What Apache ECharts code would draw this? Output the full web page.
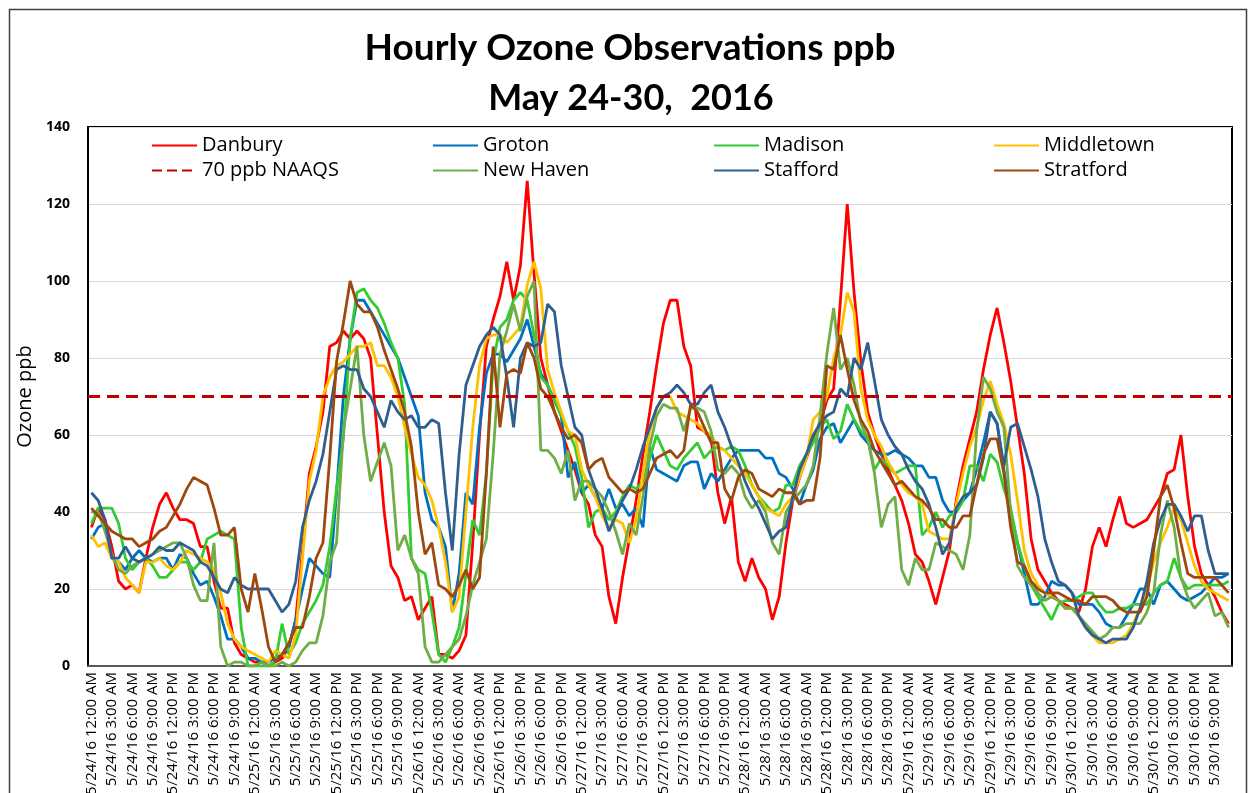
<!DOCTYPE html>
<html>
<head>
<meta charset="utf-8">
<script src="https://cdn.jsdelivr.net/npm/echarts@6/dist/echarts.min.js"></script>
<style>
html,body{margin:0;padding:0;background:#fff;}
#chart{width:1248px;height:793px;}
</style>
</head>
<body>
<div id="chart"></div>
<script>
// ---- tick / category labels ----
const days = ['5/24/16','5/25/16','5/26/16','5/27/16','5/28/16','5/29/16','5/30/16'];
const hourLabels = ['12:00 AM','1:00 AM','2:00 AM','3:00 AM','4:00 AM','5:00 AM','6:00 AM','7:00 AM','8:00 AM','9:00 AM','10:00 AM','11:00 AM',
                    '12:00 PM','1:00 PM','2:00 PM','3:00 PM','4:00 PM','5:00 PM','6:00 PM','7:00 PM','8:00 PM','9:00 PM','10:00 PM','11:00 PM'];
const yTicks = [0,20,40,60,80,100,120,140];
const NAAQS = 70;

// ---- hourly ozone (ppb), one row per day ----
const danbury = [
  36,41,38,31,22,20,21,19,28,36,42,45,41,38,38,37,31,31,22,15,15,6,3,2,
  1,1,0,1,2,5,12,30,50,57,66,83,84,87,85,87,85,80,60,40,26,23,17,18,
  12,15,18,3,3,2,4,8,32,60,83,90,96,105,95,104,126,102,80,73,66,61,56,51,
  45,42,34,31,18,11,23,33,43,55,66,78,89,95,95,83,78,62,61,59,45,37,44,27,
  22,28,23,20,12,18,32,43,49,54,59,63,69,72,95,120,97,79,66,60,55,51,47,43,
  37,29,27,22,16,23,30,43,52,59,66,77,86,93,84,74,62,50,33,25,22,19,17,16,
  15,14,20,31,36,31,38,44,37,36,37,38,41,44,50,51,60,44,31,24,21,18,14,11
];
const groton = [
  33,36,37,28,27,25,28,30,28,27,28,28,25,29,28,24,21,22,18,13,7,7,5,2,
  2,1,1,2,3,5,12,20,28,26,24,23,45,70,85,95,95,92,89,86,83,80,75,70,
  65,45,38,36,31,14,24,45,42,62,76,81,81,79,82,85,90,83,76,73,69,65,49,53,
  45,47,44,41,46,41,42,39,41,36,57,51,50,49,48,52,53,53,46,50,48,51,54,56,
  56,56,56,54,54,50,49,46,42,47,51,59,62,63,58,61,64,60,58,56,55,55,56,55,
  54,52,52,49,49,43,40,40,43,45,51,58,66,63,51,40,32,24,16,16,18,22,21,21,
  19,16,16,16,14,11,10,10,13,16,20,20,16,21,22,20,18,17,18,19,21,23,23,24
];
const madison = [
  37,41,41,41,37,28,25,27,28,26,23,23,25,27,27,25,27,33,34,35,34,33,10,0,
  0,0,0,1,11,3,6,11,14,17,21,31,46,59,85,97,98,95,93,89,84,80,68,28,
  25,24,14,3,1,5,10,24,38,34,50,79,88,90,95,97,95,86,75,73,69,65,61,57,
  49,36,40,41,38,40,44,47,46,48,54,60,56,52,51,54,56,58,54,56,57,56,57,56,
  52,47,44,42,40,41,47,47,52,55,58,62,64,59,61,68,64,61,59,51,54,52,50,51,
  52,52,34,36,40,36,39,40,43,52,52,48,55,53,46,41,32,26,21,18,15,12,16,17,
  17,18,19,19,16,14,14,15,15,16,16,16,19,21,22,28,23,20,21,21,21,21,21,22
];
const middletown = [
  34,31,32,28,27,23,21,19,27,27,28,26,25,27,30,29,28,27,25,19,11,7,5,4,
  3,2,1,4,3,2,8,28,48,56,70,75,78,79,81,83,83,84,78,78,75,70,62,55,
  49,47,43,36,27,14,18,40,62,78,85,86,86,84,86,88,99,105,98,77,71,66,61,60,
  51,47,44,39,36,38,37,32,38,50,61,67,70,70,66,65,64,63,61,60,57,56,54,52,
  50,47,44,41,40,39,42,44,49,54,64,66,70,80,86,97,92,72,64,60,57,53,50,47,
  45,44,42,35,34,33,33,42,50,57,62,69,74,68,63,55,43,30,24,21,19,18,17,15,
  15,13,10,8,6,6,6,7,8,11,15,20,27,32,36,41,38,32,26,22,20,19,18,17
];
const newHaven = [
  40,40,35,29,25,24,26,27,28,29,30,31,32,32,28,21,17,17,32,5,0,1,1,0,
  0,1,0,0,1,0,1,4,6,6,13,27,32,61,72,83,60,48,53,58,52,30,34,28,
  24,5,1,1,3,5,7,13,21,27,33,55,81,87,94,87,96,100,56,56,54,50,56,43,
  48,48,46,44,40,35,29,37,34,44,57,65,68,67,67,61,67,67,66,61,51,50,52,50,
  44,41,43,40,32,29,40,43,45,47,52,65,81,93,77,80,73,63,59,50,36,42,44,25,
  21,28,25,25,32,31,30,29,25,34,61,75,72,66,62,40,26,23,21,19,17,18,17,15,
  15,13,11,9,7,8,10,10,11,11,11,14,19,34,43,36,23,18,15,17,19,13,14,10
];
const stafford = [
  45,43,38,28,28,31,28,27,28,29,31,30,30,32,31,30,27,26,23,20,19,23,21,20,
  20,20,20,17,14,16,22,36,43,48,55,66,77,78,77,77,72,70,66,62,69,66,64,65,
  62,62,64,63,45,30,55,73,78,83,86,88,86,75,62,80,84,83,84,94,92,78,70,62,
  60,51,46,41,35,39,43,46,51,57,62,67,70,71,73,71,68,68,71,73,66,62,57,53,
  48,44,41,37,33,35,36,44,51,55,60,63,65,66,72,70,80,77,84,74,64,60,57,55,
  51,48,46,42,36,29,32,41,44,45,47,54,66,63,52,62,63,57,51,44,33,27,22,21,
  19,13,10,8,7,6,7,7,7,10,15,22,32,38,42,42,39,35,39,39,30,24,24,24
];
const stratford = [
  41,39,37,35,34,33,33,31,32,33,35,36,39,42,46,49,48,47,41,34,34,36,20,14,
  24,15,5,1,3,6,10,10,18,28,32,54,79,89,100,94,92,92,88,82,77,72,66,57,
  40,29,32,21,20,18,21,25,20,23,50,83,62,76,77,76,84,80,72,70,66,62,59,60,
  58,51,53,54,49,47,45,46,45,46,50,54,55,56,54,56,68,66,62,58,58,46,43,49,
  51,50,46,45,44,46,45,45,42,43,43,54,78,77,86,77,69,64,61,56,53,50,47,48,
  46,44,43,41,38,38,36,36,39,39,47,55,59,59,50,36,27,26,22,20,19,19,19,18,
  17,17,16,18,18,18,17,15,14,14,14,18,30,44,47,41,32,24,23,23,23,23,21,19
];

const categories = [];
days.forEach(d => hourLabels.forEach(h => categories.push(d + ' ' + h)));

const FONT = 'Open Sans';
const chart = echarts.init(document.getElementById('chart'), null, {renderer: 'canvas'});

function line(name, data, color) {
  return {
    name: name, type: 'line', data: data, symbol: 'none', showSymbol: false,
    lineStyle: {color: color, width: 2.8}, itemStyle: {color: color},
    emphasis: {disabled: true}, silent: true
  };
}

const legendBase = {
  orient: 'vertical', top: 133, padding: 0, itemWidth: 45, itemHeight: 2, itemGap: 0,
  itemStyle: {opacity: 0},
  textStyle: {fontFamily: FONT, fontSize: 20, color: '#000', lineHeight: 25, height: 25},
  selectedMode: false
};

chart.setOption({
  animation: false,
  backgroundColor: '#fff',
  title: [
    {text: 'Hourly Ozone Observations ppb', left: 625, top: 25, textAlign: 'center',
     textStyle: {fontFamily: 'Lato', fontWeight: 'bold', fontSize: 37, color: '#000'}},
    {text: 'May 24-30,  2016', left: 626, top: 75, textAlign: 'center',
     textStyle: {fontFamily: 'Lato', fontWeight: 'bold', fontSize: 36, color: '#000'}}
  ],
  legend: [
    Object.assign({}, legendBase, {left: 151, data: ['Danbury', '70 ppb NAAQS']}),
    Object.assign({}, legendBase, {left: 432, data: ['Groton', 'New Haven']}),
    Object.assign({}, legendBase, {left: 713, data: ['Madison', 'Stafford']}),
    Object.assign({}, legendBase, {left: 993, data: ['Middletown', 'Stratford']})
  ],
  grid: {left: 88, right: 16, top: 127, bottom: 127, containLabel: false, outerBoundsMode: 'none',
         show: true, borderColor: '#000', borderWidth: 2, backgroundColor: 'transparent'},
  xAxis: {
    type: 'category', data: categories, boundaryGap: true,
    axisLine: {show: true, lineStyle: {color: '#595959', width: 2}},
    axisTick: {show: false},
    axisLabel: {interval: 2, rotate: 90, margin: 6, fontFamily: FONT, fontSize: 15, color: '#000'},
    splitLine: {show: false}
  },
  yAxis: {
    type: 'value', min: yTicks[0], max: yTicks[yTicks.length - 1], interval: 20,
    name: 'Ozone ppb', nameLocation: 'middle', nameGap: 48, nameRotate: 90,
    nameTextStyle: {fontFamily: FONT, fontSize: 20, color: '#000'},
    axisLine: {show: true, lineStyle: {color: '#000', width: 2}},
    axisTick: {show: false},
    axisLabel: {fontFamily: FONT, fontWeight: 'bold', fontSize: 14, color: '#000', margin: 18},
    splitLine: {show: true, lineStyle: {color: '#D9D9D9', width: 1}}
  },
  series: [
    line('Danbury', danbury, '#FF0000'),
    line('Groton', groton, '#0070C0'),
    line('Madison', madison, '#33CC33'),
    line('Middletown', middletown, '#FFC000'),
    {
      name: '70 ppb NAAQS', type: 'line', data: [], symbol: 'none',
      lineStyle: {color: '#C00000', width: 3, type: [10, 5]}, itemStyle: {color: '#C00000'},
      markLine: {symbol: 'none', silent: true, label: {show: false},
        lineStyle: {color: '#C00000', width: 3, type: [12, 7]},
        data: [{yAxis: NAAQS}]}
    },
    line('New Haven', newHaven, '#70AD47'),
    line('Stafford', stafford, '#2F5F91'),
    line('Stratford', stratford, '#9E480E')
  ],
  graphic: [{
    type: 'rect', left: 7, top: 7, silent: true,
    shape: {width: 1237, height: 800},
    style: {fill: 'none', stroke: '#404040', lineWidth: 1.5}
  }]
});
</script>
</body>
</html>
